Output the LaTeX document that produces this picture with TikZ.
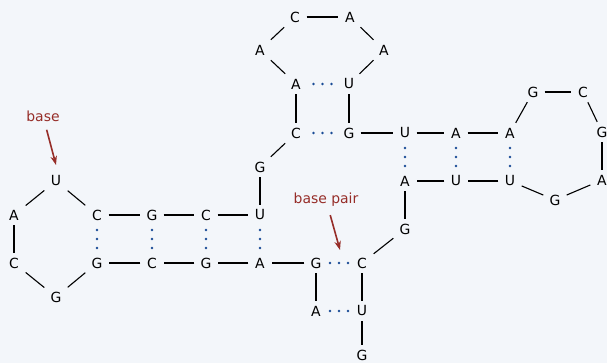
\documentclass[tikz,border=0pt]{standalone}
\usepackage{fontspec}
\setmainfont{DejaVu Sans}
\usetikzlibrary{arrows.meta,decorations.markings}
\definecolor{paper}{RGB}{243,246,250}
\definecolor{pairblue}{RGB}{25,75,150}
\definecolor{notered}{RGB}{150,45,40}
\begin{document}
\begin{tikzpicture}[x=1bp, y=-1bp, font=\fontsize{14}{16}\selectfont,
    base/.style = {minimum width=23bp, minimum height=20bp, inner sep=0pt},
    pair/.style = {postaction={decorate}, decoration={markings,
        mark=at position .5 with {\foreach \d in {-9,0,9} \fill[pairblue] (\d bp,0) circle (1.4bp);}}},
    note/.style = {notered, line width=1.6bp, -{Stealth[length=9bp,width=6.5bp]}, shorten <=5bp}]
    \fill[paper] (0,0) rectangle (607,363);
    \useasboundingbox (0,0) rectangle (607,363);
    % bases, along the strand
    \node[base] (1) at (316,311) {A};
    \node[base] (2) at (316,263) {G};
    \node[base] (3) at (260,263) {A};
    \node[base] (4) at (206,263) {G};
    \node[base] (5) at (152,263) {C};
    \node[base] (6) at (97,263) {G};
    \node[base] (7) at (56,297) {G};
    \node[base] (8) at (14,263) {C};
    \node[base] (9) at (14,215) {A};
    \node[base] (10) at (56,181) {U};
    \node[base] (11) at (97,215) {C};
    \node[base] (12) at (152,215) {G};
    \node[base] (13) at (206,215) {C};
    \node[base] (14) at (260,215) {U};
    \node[base] (15) at (260,167) {G};
    \node[base] (16) at (296,133) {C};
    \node[base] (17) at (296,84) {A};
    \node[base] (18) at (260,50) {A};
    \node[base] (19) at (295,17) {C};
    \node[base] (20) at (350,17) {A};
    \node[base] (21) at (384,50) {A};
    \node[base] (22) at (349,84) {U};
    \node[base] (23) at (349,133) {G};
    \node[base] (24) at (405,133) {U};
    \node[base] (25) at (456,133) {A};
    \node[base] (26) at (510,133) {A};
    \node[base] (27) at (533,92) {G};
    \node[base] (28) at (583,92) {C};
    \node[base] (29) at (602,132) {G};
    \node[base] (30) at (602,180) {A};
    \node[base] (31) at (555,200) {G};
    \node[base] (32) at (510,181) {U};
    \node[base] (33) at (456,181) {U};
    \node[base] (34) at (405,181) {A};
    \node[base] (35) at (405,229) {G};
    \node[base] (36) at (362,263) {C};
    \node[base] (37) at (362,311) {U};
    \node[base] (38) at (362,355) {G};
    % backbone
    \foreach \i [evaluate=\i as \j using int(\i+1)] in {1,...,37}
        \draw[line width=1.1bp] (\i) -- (\j);
    % pairs
    \foreach \a/\b in {11/6, 12/5, 13/4, 14/3, 17/22, 16/23, 24/34, 25/33, 26/32, 2/36, 1/37}
        \path[pair] (\a) -- (\b);
    % labels
    \node[notered] (lbase) at (43,116) {base};
    \coordinate (basetip) at (56,165);
    \draw[note] (lbase) -- (basetip);
    \node[notered] (lpair) at (326,200) {base pair};
    \coordinate (pairtip) at (340,250);
    \draw[note] (lpair) -- (pairtip);
\end{tikzpicture}
\end{document}
